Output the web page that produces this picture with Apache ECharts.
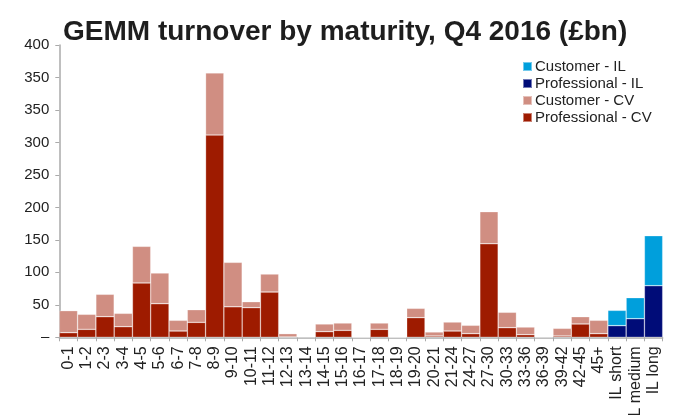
<!DOCTYPE html>
<html>
<head>
<meta charset="utf-8">
<script src="https://cdn.jsdelivr.net/npm/echarts@6/dist/echarts.min.js"></script>
<style>
html,body{margin:0;padding:0;background:#fff;}
#chart{width:686px;height:415px;}
</style>
</head>
<body>
<div id="chart"></div>
<script>
var categories = ['0-1','1-2','2-3','3-4','4-5','5-6','6-7','7-8','8-9','9-10','10-11','11-12','12-13','13-14','14-15','15-16','16-17','17-18','18-19','19-20','20-21','21-24','24-27','27-30','30-33','33-36','36-39','39-42','42-45','45+','IL short','IL medium','IL long'];
var professionalCV = [7.1,12.3,31.7,16.3,83.6,51.7,9.7,23.0,311.4,47.0,45.6,69.7,0.5,0.8,8.7,10.7,0,12.3,0,30.2,2.0,9.7,5.6,144.0,14.8,4.0,0.5,2.0,20.5,5.6,null,null,null];
var customerCV = [33.9,23.1,34.5,20.6,56.4,47.3,16.5,19.5,95.6,68.4,9.2,27.7,5.1,0.3,11.8,11.3,0,9.7,0,14.4,6.2,13.8,12.9,49.4,23.7,11.8,0.3,11.8,11.2,20.6,null,null,null];
var professionalIL = [null,null,null,null,null,null,null,null,null,null,null,null,null,null,null,null,null,null,null,null,null,null,null,null,null,null,null,null,null,null,17.9,28.6,79.4];
var customerIL = [null,null,null,null,null,null,null,null,null,null,null,null,null,null,null,null,null,null,null,null,null,null,null,null,null,null,null,null,null,null,23.6,32.4,77.0];
var yTickLabels = {0:'–',50:'50',100:'100',150:'150',200:'200',250:'250',300:'300',350:'350',400:'350',450:'400'};

var FONT = '"Liberation Sans", Arial, Helvetica, sans-serif';
var chart = echarts.init(document.getElementById('chart'));
var border = {borderColor:'rgba(255,255,255,0.45)', borderWidth:0.6};
chart.setOption({
  animation:false,
  backgroundColor:'#fff',
  title:{
    text:'GEMM turnover by maturity, Q4 2016 (£bn)',
    left:58, top:13,
    textStyle:{fontFamily:FONT,fontSize:28,fontWeight:'bold',color:'#1e1e1e'}
  },
  legend:{
    orient:'vertical',
    left:517, top:54,
    itemWidth:9, itemHeight:9, itemGap:2,
    icon:'rect',
    data:['Customer - IL','Professional - IL','Customer - CV','Professional - CV'],
    textStyle:{fontFamily:FONT,fontSize:15,color:'#222',padding:[0,0,0,-2]}
  },
  grid:{left:59.3,right:23.3,top:45,bottom:77.7,containLabel:false,outerBoundsMode:'none'},
  xAxis:{
    type:'category',
    data:categories,
    boundaryGap:true,
    axisLine:{lineStyle:{color:'#aaa',width:1.5}},
    axisTick:{show:true,length:4,lineStyle:{color:'#aaa'}},
    axisLabel:{rotate:90,interval:0,margin:9,fontFamily:FONT,fontSize:16,color:'#222'}
  },
  yAxis:{
    type:'value',
    min:0,max:450,interval:50,
    splitLine:{show:false},
    axisLine:{show:true,lineStyle:{color:'#aaa',width:1.5}},
    axisTick:{show:true,length:4,lineStyle:{color:'#aaa'}},
    axisLabel:{margin:10,fontFamily:FONT,fontSize:15,color:'#222',
      formatter:function(v){return yTickLabels[v];}}
  },
  series:[
    {name:'Professional - CV',type:'bar',stack:'a',barCategoryGap:'0%',data:professionalCV,
     itemStyle:Object.assign({color:'#9e1b00'},border)},
    {name:'Customer - CV',type:'bar',stack:'a',barCategoryGap:'0%',data:customerCV,
     itemStyle:Object.assign({color:'#d08e82'},border)},
    {name:'Professional - IL',type:'bar',stack:'a',barCategoryGap:'0%',data:professionalIL,
     itemStyle:Object.assign({color:'#000c78'},border)},
    {name:'Customer - IL',type:'bar',stack:'a',barCategoryGap:'0%',data:customerIL,
     itemStyle:Object.assign({color:'#009fdc'},border)}
  ]
});
</script>
</body>
</html>
